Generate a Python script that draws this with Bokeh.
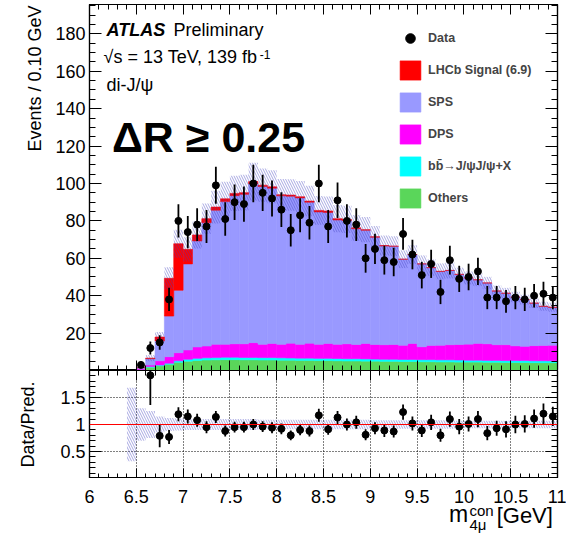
import numpy as np
from math import pi
from bokeh.plotting import figure
from bokeh.layouts import column, row
from bokeh.models import (Range1d, LinearAxis, FixedTicker, Label, Legend,
                          LegendItem, Span, Grid)
from bokeh.embed import file_html
from bokeh.resources import INLINE

FONT = "Liberation Sans"

# ---------------- data ----------------
bin_centers = [6.55, 6.65, 6.75, 6.85, 6.95,
               7.05, 7.15, 7.25, 7.35, 7.45, 7.55, 7.65, 7.75, 7.85, 7.95,
               8.05, 8.15, 8.25, 8.35, 8.45, 8.55, 8.65, 8.75, 8.85, 8.95,
               9.05, 9.15, 9.25, 9.35, 9.45, 9.55, 9.65, 9.75, 9.85, 9.95,
               10.05, 10.15, 10.25, 10.35, 10.45, 10.55, 10.65, 10.75, 10.85, 10.95]
bin_width = 0.1

others = [0.3, 1.8, 2.5, 3.3, 4.4,
          5.0, 5.4, 5.6, 5.7, 5.8, 5.8, 5.7, 5.7, 5.6, 5.6,
          5.5, 5.5, 5.4, 5.4, 5.3, 5.3, 5.2, 5.1, 5.1, 5.0,
          5.0, 4.9, 4.9, 4.8, 4.8, 4.7, 4.7, 4.6, 4.6, 4.5,
          4.5, 4.5, 4.4, 4.4, 4.3, 4.3, 4.3, 4.2, 4.2, 4.2]
bbbar = [0.1, 0.3, 0.4, 0.6, 0.8,
         1.0, 1.1, 1.2, 1.2, 1.3, 1.3, 1.3, 1.3, 1.3, 1.3,
         1.3, 1.2, 1.2, 1.2, 1.2, 1.2, 1.2, 1.2, 1.2, 1.2,
         1.1, 1.1, 1.1, 1.1, 1.1, 1.1, 1.1, 1.1, 1.1, 1.1,
         1.0, 1.0, 1.0, 1.0, 1.0, 1.0, 1.0, 1.0, 1.0, 1.0]
dps = [0.5, 0.8, 2.3, 3.5, 4.3,
       5.0, 6.1, 6.3, 7.1, 6.9, 7.2, 7.3, 7.9, 7.1, 7.6,
       7.2, 7.9, 7.4, 8.0, 7.5, 8.0, 7.6, 8.0, 7.6, 8.3,
       7.8, 7.8, 7.9, 7.6, 8.6, 6.9, 7.6, 7.8, 8.1, 8.3,
       8.6, 9.0, 8.9, 8.4, 8.5, 7.9, 7.6, 8.1, 8.2, 8.3]
sps = [0.6, 3.4, 10.6, 21.7, 33.4,
       46.0, 56.7, 65.9, 71.7, 76.3, 79.2, 79.9, 84.9, 84.4, 83.0,
       79.4, 78.6, 78.3, 75.4, 70.8, 70.0, 66.5, 65.9, 61.9, 60.5,
       57.4, 52.8, 52.5, 46.0, 47.5, 44.3, 41.6, 39.5, 39.7, 37.5,
       35.4, 34.0, 32.5, 28.7, 27.5, 26.1, 25.0, 22.7, 20.9, 20.3]
lhcb = [0.0, 0.3, 2.1, 20.2, 24.9,
        7.8, 3.2, 2.2, 1.7, 1.5, 1.2, 0.9, 1.2, 0.7, 0.7,
        0.6, 0.6, 0.6, 0.6, 0.8, 0.8, 0.7, 0.6, 0.5, 0.3,
        0.2, 0.2, 0.1, 0.0, 0.0, 0.0, 0.0, 0.0, 0.0, 0.0,
        0.0, 0.0, 0.0, 0.0, 0.0, 0.0, 0.0, 0.0, 0.0, 0.0]

data = [3, 12, 15, 38, 80,
        74, 78, 77, 99, 81, 90, 89, 100, 95, 92,
        86, 75, 83, 79, 100, 77, 91, 80, 78, 60,
        65, 59, 58, 73, 62, 51, 57, 42, 59, 49,
        50, 53, 39, 39, 37, 39, 38, 40, 41, 39]
data_err = [1.7, 3.5, 3.9, 6.2, 8.9,
            8.6, 8.8, 8.8, 9.9, 9.0, 9.5, 9.4, 10.0, 9.7, 9.6,
            9.3, 8.7, 9.1, 8.9, 10.0, 8.8, 9.5, 8.9, 8.8, 7.7,
            8.1, 7.7, 7.6, 8.5, 7.9, 7.1, 7.5, 6.5, 7.7, 7.0,
            7.1, 7.3, 6.2, 6.2, 6.1, 6.2, 6.2, 6.3, 6.4, 6.2]

ratio = [np.nan, 1.91, 0.79, 0.77, 1.19,
         1.15, 1.08, 0.95, 1.14, 0.88, 0.95, 0.95, 1.00, 0.96, 0.94,
         0.92, 0.80, 0.90, 0.88, 1.17, 0.91, 1.13, 1.00, 1.04, 0.81,
         0.93, 0.89, 0.87, 1.23, 1.02, 0.89, 1.04, 0.80, 1.10, 0.96,
         1.01, 1.10, 0.84, 0.93, 0.91, 1.00, 1.01, 1.11, 1.20, 1.15]
ratio_err = [np.nan, 0.55, 0.21, 0.13, 0.13,
             0.13, 0.12, 0.11, 0.11, 0.10, 0.10, 0.10, 0.10, 0.10, 0.10,
             0.10, 0.09, 0.10, 0.10, 0.12, 0.10, 0.12, 0.11, 0.12, 0.10,
             0.11, 0.12, 0.11, 0.14, 0.13, 0.12, 0.14, 0.12, 0.14, 0.14,
             0.14, 0.15, 0.13, 0.14, 0.15, 0.16, 0.16, 0.17, 0.19, 0.18]

# relative uncertainty of the prediction (band), bins 6.4-6.5 ... 10.9-11.0
band_centers = [6.45] + bin_centers
band_rel = [0.68, 0.30, 0.25, 0.15, 0.12, 0.11,
            0.10, 0.10, 0.10, 0.10, 0.10, 0.10, 0.10, 0.10, 0.09, 0.09,
            0.09, 0.09, 0.09, 0.09, 0.09, 0.09, 0.09, 0.09, 0.09, 0.09,
            0.08, 0.08, 0.08, 0.08, 0.08, 0.08, 0.08, 0.08, 0.08, 0.07,
            0.07, 0.07, 0.07, 0.07, 0.07, 0.07, 0.07, 0.07, 0.07, 0.07]

x_ticks = [6, 6.5, 7, 7.5, 8, 8.5, 9, 9.5, 10, 10.5, 11]
x_tick_labels = ["6", "6.5", "7", "7.5", "8", "8.5", "9", "9.5", "10", "10.5", "11"]
y_ticks = [20, 40, 60, 80, 100, 120, 140, 160, 180]
r_ticks = [0.5, 1, 1.5]
r_tick_labels = ["0.5", "1", "1.5"]

# ---------------- helpers ----------------
c = np.array(bin_centers)
left = c - bin_width / 2
right = c + bin_width / 2

x_minor = np.round(np.arange(6.0, 11.0001, 0.1), 2).tolist()
y_minor = np.arange(0, 196, 5).tolist()
r_minor = np.round(np.arange(0.0, 2.0001, 0.1), 2).tolist()


def make_axis(ticks, minor, major_in, minor_in, labels=None, size="18px", standoff=4):
    ax = LinearAxis(ticker=FixedTicker(ticks=ticks, minor_ticks=minor))
    ax.major_tick_in = major_in
    ax.major_tick_out = 0
    ax.minor_tick_in = minor_in
    ax.minor_tick_out = 0
    ax.axis_line_color = "black"
    ax.axis_line_width = 1.2
    ax.major_tick_line_color = "black"
    ax.minor_tick_line_color = "black"
    ax.major_tick_line_width = 1
    ax.minor_tick_line_width = 1
    if labels is None:
        ax.major_label_text_font_size = "0px"
        ax.major_label_text_color = None
        ax.major_label_text_alpha = 0
        ax.major_label_standoff = 0
    else:
        ax.major_label_text_font = FONT
        ax.major_label_text_font_size = size
        ax.major_label_text_color = "black"
        ax.major_label_standoff = standoff
        ax.major_label_overrides = {float(k): v for k, v in labels.items()}
    return ax


def bare_figure(**kw):
    f = figure(output_backend="svg", toolbar_location=None,
               x_axis_type=None, y_axis_type=None, **kw)
    f.outline_line_color = None
    f.background_fill_color = "white"
    f.border_fill_color = "white"
    return f


txt = dict(text_font=FONT, text_color="black", text_baseline="alphabetic")

# ---------------- main panel ----------------
p1 = figure(frame_width=468, frame_height=366,
            x_range=Range1d(6, 11), y_range=Range1d(0, 195.7),
            x_axis_type=None, y_axis_type=None,
            output_backend="svg", toolbar_location=None,
            min_border_left=45, min_border_right=9,
            min_border_top=4, min_border_bottom=0)
p1.outline_line_color = "black"
p1.outline_line_width = 1.2
p1.background_fill_color = "white"
p1.border_fill_color = "white"

comps = [others, bbbar, dps, sps, lhcb]
colors = ["#5ad65a", "#00ffff", "#ff00ff", "#9999ff", "#ff0000"]
bottom = np.zeros(len(bin_centers))
stack_r = []
for vals, col in zip(comps, colors):
    top = bottom + np.array(vals)
    r = p1.quad(left=left, right=right, bottom=bottom, top=top,
                fill_color=col, line_color=col, line_width=0.6)
    stack_r.append(r)
    bottom = top
total = bottom

rel_main = np.array(band_rel[1:])
p1.quad(left=left, right=right, bottom=total * (1 - rel_main), top=total * (1 + rel_main),
        fill_color=None, line_color=None,
        hatch_pattern="\\", hatch_color="#3f3fbf", hatch_alpha=0.45,
        hatch_scale=5, hatch_weight=1)

d = np.array(data, dtype=float)
de = np.array(data_err)
p1.segment(x0=c, y0=d - de, x1=c, y1=d + de, line_color="black", line_width=1.8)
r_data = p1.scatter(x=c, y=d, size=7, marker="circle", fill_color="black", line_color="black")

p1.add_layout(make_axis(y_ticks, y_minor, 12, 6,
                        labels={t: str(t) for t in y_ticks}, size="18px", standoff=4), "left")
p1.add_layout(make_axis(y_ticks, y_minor, 12, 6), "right")
p1.add_layout(make_axis(x_ticks, x_minor, 10, 5), "below")
p1.add_layout(make_axis(x_ticks, x_minor, 10, 5), "above")

legend = Legend(items=[
    LegendItem(label="Data", renderers=[r_data]),
    LegendItem(label="LHCb Signal (6.9)", renderers=[stack_r[4]]),
    LegendItem(label="SPS", renderers=[stack_r[3]]),
    LegendItem(label="DPS", renderers=[stack_r[2]]),
    LegendItem(label="b\u0062\u0304\u2192J/\u03c8J/\u03c8+X", renderers=[stack_r[1]]),
    LegendItem(label="Others", renderers=[stack_r[0]]),
], location=(308, 160))
legend.glyph_width = 26
legend.glyph_height = 24
legend.label_height = 24
legend.label_standoff = 5
legend.spacing = 8
legend.padding = 0
legend.margin = 0
legend.border_line_color = None
legend.background_fill_alpha = 0
legend.label_text_font = FONT
legend.label_text_font_style = "bold"
legend.label_text_font_size = "12.5px"
p1.add_layout(legend)

p1.add_layout(Label(x=6.182, y=181.8, text="ATLAS", text_font_size="18px",
                    text_font_style="bold italic", **txt))
p1.add_layout(Label(x=6.897, y=181.8, text="Preliminary", text_font_size="18px", **txt))
p1.add_layout(Label(x=6.15, y=167.4, text="\u221as = 13 TeV, 139 fb", text_font_size="18px", **txt))
p1.add_layout(Label(x=7.82, y=168.9, text="-1", text_font_size="12px", **txt))
p1.add_layout(Label(x=6.182, y=152.4, text="di-J/\u03c8", text_font_size="18px", **txt))
p1.add_layout(Label(x=6.24, y=124.9, text="\u0394R \u2265 0.25", text_font_size="43px",
                    text_font_style="bold", **txt))

# ---------------- ratio panel ----------------
p2 = figure(frame_width=468, frame_height=108,
            x_range=p1.x_range, y_range=Range1d(0, 2.0),
            x_axis_type=None, y_axis_type=None,
            output_backend="svg", toolbar_location=None,
            min_border_left=45, min_border_right=9,
            min_border_top=0, min_border_bottom=0)
p2.outline_line_color = "black"
p2.outline_line_width = 1.2
p2.background_fill_color = "white"
p2.border_fill_color = "white"

p2.add_layout(Grid(dimension=0, ticker=FixedTicker(ticks=x_ticks[1:-1]),
                   grid_line_color="black", grid_line_dash="1 2", grid_line_width=1))
p2.add_layout(Grid(dimension=1, ticker=FixedTicker(ticks=r_ticks),
                   grid_line_color="black", grid_line_dash="1 2", grid_line_width=1))

bc = np.array(band_centers)
br = np.array(band_rel)
p2.quad(left=bc - bin_width / 2, right=bc + bin_width / 2, bottom=1 - br, top=1 + br,
        fill_color=None, line_color=None,
        hatch_pattern="\\", hatch_color="#3f3fbf", hatch_alpha=0.45,
        hatch_scale=5, hatch_weight=1)
p2.add_layout(Span(location=1, dimension="width", line_color="red", line_width=1.2))

rr = np.array(ratio)
re = np.array(ratio_err)
p2.segment(x0=c, y0=rr - re, x1=c, y1=rr + re, line_color="black", line_width=1.8)
p2.scatter(x=c, y=rr, size=7, marker="circle", fill_color="black", line_color="black")

p2.add_layout(make_axis(r_ticks, r_minor, 12, 6,
                        labels=dict(zip(r_ticks, r_tick_labels)), size="18px", standoff=4), "left")
p2.add_layout(make_axis(r_ticks, r_minor, 12, 6), "right")
p2.add_layout(make_axis(x_ticks, x_minor, 10, 5), "below")
p2.add_layout(make_axis(x_ticks, x_minor, 10, 5), "above")

# ---------------- x tick labels + x-axis title ----------------
p3 = bare_figure(frame_width=468, frame_height=30,
                 x_range=p1.x_range, y_range=Range1d(0, 30),
                 min_border_left=45, min_border_right=9,
                 min_border_top=26, min_border_bottom=0)
xlab_axis = make_axis(x_ticks, x_minor, 0, 0,
                      labels=dict(zip(x_ticks, x_tick_labels)), size="18px", standoff=2)
xlab_axis.axis_line_color = None
xlab_axis.major_tick_line_color = None
xlab_axis.minor_tick_line_color = None
p3.add_layout(xlab_axis, "above")
p3.add_layout(Label(x=9.84, y=20.3, text="m", text_font_size="23px", **txt))
p3.add_layout(Label(x=10.06, y=24.4, text="con", text_font_size="15px", **txt))
p3.add_layout(Label(x=10.06, y=10.4, text="4\u03bc", text_font_size="15px", **txt))
p3.add_layout(Label(x=10.35, y=18.9, text="[GeV]", text_font_size="22px", **txt))

# ---------------- y-axis title strip ----------------
pl = bare_figure(width=44, height=534, x_range=Range1d(0, 44), y_range=Range1d(0, 534),
                 min_border=0)
pl.add_layout(Label(x=34.5, y=529, text="Events / 0.10 GeV", angle=pi / 2,
                    text_align="right", text_font_size="18px", **txt))
pl.add_layout(Label(x=27, y=110, text="Data/Pred.", angle=pi / 2,
                    text_align="center", text_font_size="18px", **txt))

layout = row(pl, column(p1, p2, p3, spacing=0), spacing=0)
open("out.html", "w").write(file_html(layout, INLINE))
